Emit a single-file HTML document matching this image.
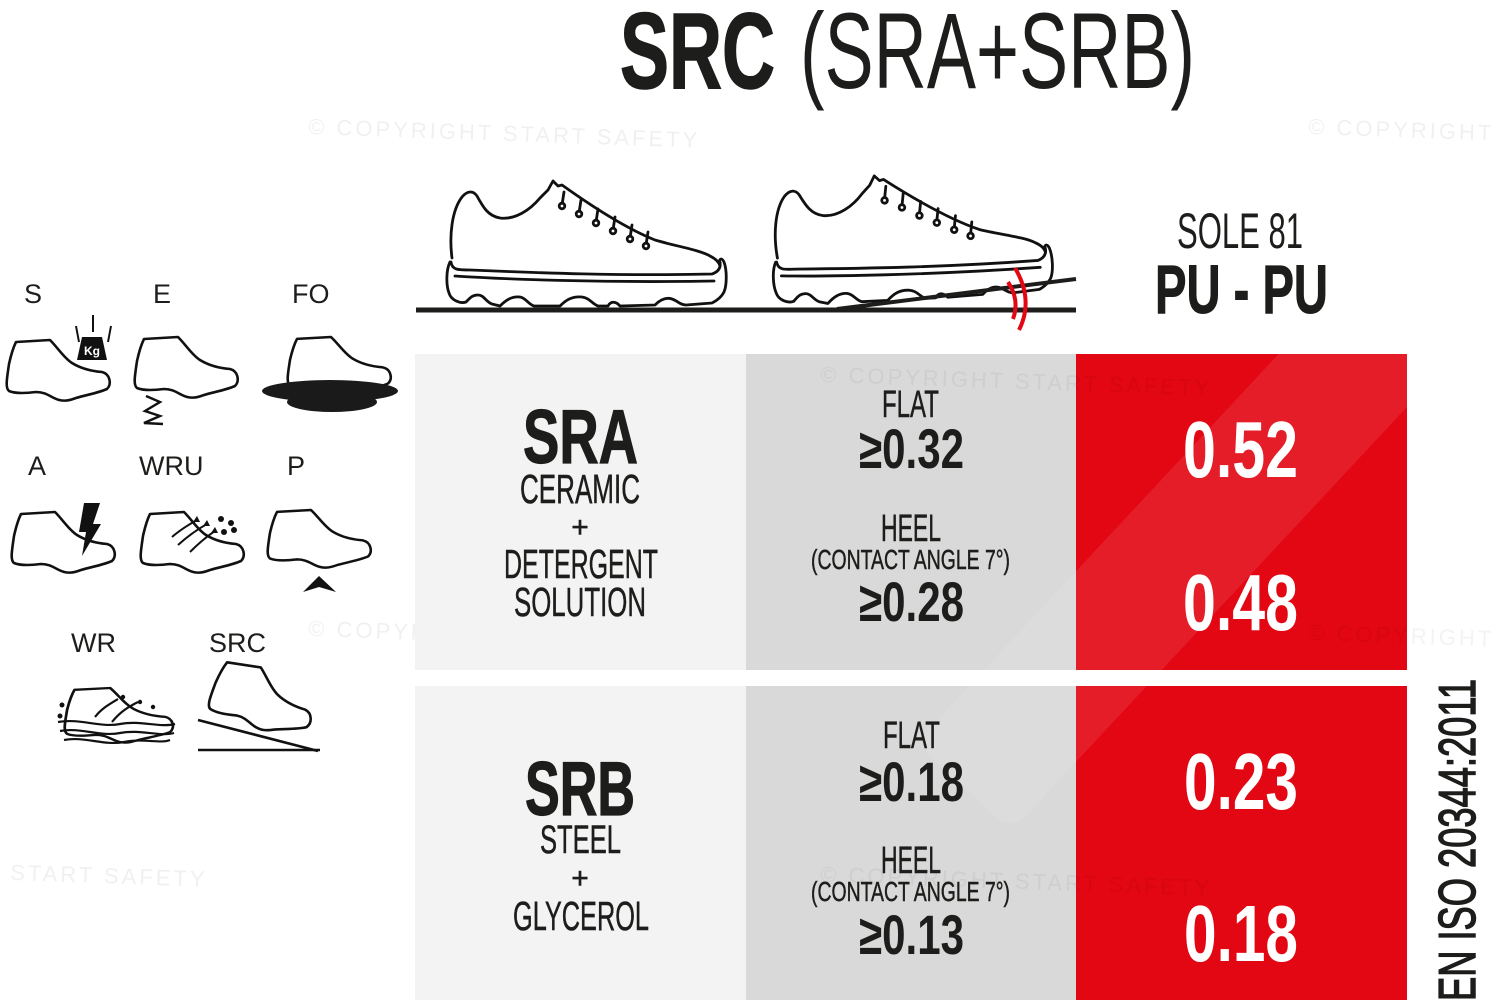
<!DOCTYPE html>
<html><head><meta charset="utf-8"><style>
html,body{margin:0;padding:0;background:#fff;}
svg{display:block;}
text{font-family:"Liberation Sans",sans-serif;}
</style></head><body>
<svg width="1500" height="1000" viewBox="0 0 1500 1000" xmlns="http://www.w3.org/2000/svg">
<defs>
<path id="boot" d="M10,2 L44,0 C52,8 58,18 66,23 C74,28 84,31 96,32 C104,34 106,44 101,49 C92,53 80,55 70,58 C62,61 56,62 48,58 C42,55 38,52 30,52 C22,53 10,54 3,51 C-1,48 1,38 3,24 C5,15 7,8 10,2 Z" fill="#fff" stroke="#111" stroke-width="2.6" stroke-linejoin="round"/>
<g id="sneaker" fill="none" stroke="#111" stroke-width="2.8" stroke-linejoin="round" stroke-linecap="round">
<path d="M452,258 C449,235 452,210 462,197 C467,191 473,190 477,196 C483,207 488,216 500,218 C515,220 530,210 540,198 L548,190 L553,181 L558,186 L562,185 C590,205 625,228 655,240 C675,246 700,250 710,256 C716,259 719,262 720,266"/>
<path d="M451,262 C452,270 458,270 470,270 C540,273 620,276 712,274 C718,272 721,268 720,262"/>
<path d="M455,276 C500,279 600,283 714,281"/>
<path d="M450,262 C446,270 446,285 449,293 C451,300 460,304 466,302 C470,298 472,295 478,295 C484,295 486,302 492,304 L500,306 C506,300 512,296 520,297 C526,298 528,304 534,306 L560,306 C566,300 572,296 582,297 C590,298 592,304 598,306 L608,306 C610,302 614,301 618,304 L620,306 L655,305 C660,300 666,297 672,299 C678,301 680,305 686,305 L712,303 C718,300 722,296 724,292 C727,285 727,270 724,262 C722,258 720,258 719,262"/>
<path d="M564,192 L562,205 M581,200 L579,213 M598,209 L596,222 M615,217 L613,230 M632,225 L630,238 M648,232 L646,245"/>
<circle cx="562" cy="206" r="2.8" fill="#fff"/><circle cx="579" cy="214" r="2.8" fill="#fff"/><circle cx="596" cy="223" r="2.8" fill="#fff"/><circle cx="613" cy="231" r="2.8" fill="#fff"/><circle cx="630" cy="239" r="2.8" fill="#fff"/><circle cx="646" cy="246" r="2.8" fill="#fff"/>
</g>
</defs>

<!-- faint watermarks on white -->
<g fill="#000" opacity="0.06" font-size="22" letter-spacing="3">
<text x="308" y="134" transform="rotate(2 308 134)">© COPYRIGHT START SAFETY</text>
<text x="1308" y="134" transform="rotate(2 1308 134)">© COPYRIGHT</text>
<text x="308" y="636" transform="rotate(2 308 636)">© COPYRIGHT START SAFETY</text>
<text x="10" y="880" transform="rotate(2 10 880)">START SAFETY</text>
</g>

<!-- Title -->
<text x="620" y="88" font-size="108" font-weight="bold" fill="#1d1d1b" stroke="#1d1d1b" stroke-width="1.5" textLength="155" lengthAdjust="spacingAndGlyphs">SRC</text>
<text x="800" y="88" font-size="108" fill="#1d1d1b" textLength="395" lengthAdjust="spacingAndGlyphs">(SRA+SRB)</text>

<!-- Sole -->
<text x="1177" y="248" font-size="50" fill="#1d1d1b" textLength="126" lengthAdjust="spacingAndGlyphs">SOLE 81</text>
<text x="1155" y="313" font-size="69" font-weight="bold" fill="#1d1d1b" stroke="#1d1d1b" stroke-width="1" textLength="173" lengthAdjust="spacingAndGlyphs">PU - PU</text>

<!-- Big shoes -->
<use href="#sneaker"/>
<g transform="translate(328,0) rotate(-3 452 307)"><use href="#sneaker"/></g>
<line x1="416" y1="310" x2="1076" y2="310" stroke="#1d1d1b" stroke-width="5"/>
<line x1="837" y1="309" x2="1076" y2="279" stroke="#1d1d1b" stroke-width="4"/>
<path d="M1008,282 Q1020,300 1013,319" fill="none" stroke="#e30613" stroke-width="4"/>
<path d="M1015,268 Q1034,300 1019,330" fill="none" stroke="#e30613" stroke-width="4"/>

<!-- Table -->
<rect x="415" y="354" width="331" height="316" fill="#f3f3f3"/>
<rect x="746" y="354" width="330" height="316" fill="#d9d9d9"/>
<rect x="1076" y="354" width="331" height="316" fill="#e30613"/>
<rect x="415" y="686" width="331" height="314" fill="#f3f3f3"/>
<rect x="746" y="686" width="330" height="314" fill="#d9d9d9"/>
<rect x="1076" y="686" width="331" height="314" fill="#e30613"/>

<!-- watermark band on red -->
<g opacity="0.09" fill="#fff">
<rect x="-420" y="-65" width="840" height="130" rx="20" transform="translate(1250,480) rotate(-47)"/>
</g>
<g fill="#000" opacity="0.05" font-size="22" letter-spacing="3">
<text x="820" y="382" transform="rotate(2 820 382)">© COPYRIGHT START SAFETY</text>
<text x="820" y="882" transform="rotate(2 820 882)">© COPYRIGHT START SAFETY</text>
<text x="1308" y="640" transform="rotate(2 1308 640)">© COPYRIGHT</text>
</g>

<!-- Section 1 -->
<g fill="#1d1d1b">
<text x="523" y="463" font-size="76" font-weight="bold" stroke="#1d1d1b" stroke-width="1.2" textLength="115" lengthAdjust="spacingAndGlyphs">SRA</text>
<g stroke="#1d1d1b" stroke-width="0.5">
<text x="520" y="503" font-size="41" textLength="120" lengthAdjust="spacingAndGlyphs">CERAMIC</text>
<text x="580" y="537" font-size="30" text-anchor="middle">+</text>
<text x="504" y="578" font-size="41" textLength="154" lengthAdjust="spacingAndGlyphs">DETERGENT</text>
<text x="514" y="616" font-size="41" textLength="132" lengthAdjust="spacingAndGlyphs">SOLUTION</text>
<text x="882" y="417" font-size="38" textLength="57" lengthAdjust="spacingAndGlyphs">FLAT</text>
<text x="881" y="541" font-size="38" textLength="60" lengthAdjust="spacingAndGlyphs">HEEL</text>
<text x="811" y="569" font-size="28" textLength="199" lengthAdjust="spacingAndGlyphs">(CONTACT ANGLE 7°)</text>
</g>
<text x="859" y="468" font-size="56" font-weight="bold" textLength="105" lengthAdjust="spacingAndGlyphs">≥0.32</text>
<text x="859" y="621" font-size="56" font-weight="bold" textLength="105" lengthAdjust="spacingAndGlyphs">≥0.28</text>
</g>
<g fill="#fff">
<text x="1183" y="477" font-size="80" font-weight="bold" textLength="115" lengthAdjust="spacingAndGlyphs">0.52</text>
<text x="1183" y="630" font-size="80" font-weight="bold" textLength="115" lengthAdjust="spacingAndGlyphs">0.48</text>
</g>

<!-- Section 2 -->
<g fill="#1d1d1b">
<text x="525" y="815" font-size="76" font-weight="bold" stroke="#1d1d1b" stroke-width="1.2" textLength="110" lengthAdjust="spacingAndGlyphs">SRB</text>
<g stroke="#1d1d1b" stroke-width="0.5">
<text x="540" y="853" font-size="40" textLength="81" lengthAdjust="spacingAndGlyphs">STEEL</text>
<text x="580" y="888" font-size="30" text-anchor="middle">+</text>
<text x="513" y="930" font-size="41" textLength="136" lengthAdjust="spacingAndGlyphs">GLYCEROL</text>
<text x="883" y="748" font-size="38" textLength="57" lengthAdjust="spacingAndGlyphs">FLAT</text>
<text x="881" y="873" font-size="38" textLength="60" lengthAdjust="spacingAndGlyphs">HEEL</text>
<text x="811" y="901" font-size="28" textLength="199" lengthAdjust="spacingAndGlyphs">(CONTACT ANGLE 7°)</text>
</g>
<text x="859" y="801" font-size="56" font-weight="bold" textLength="105" lengthAdjust="spacingAndGlyphs">≥0.18</text>
<text x="859" y="954" font-size="56" font-weight="bold" textLength="105" lengthAdjust="spacingAndGlyphs">≥0.13</text>
</g>
<g fill="#fff">
<text x="1184" y="809" font-size="80" font-weight="bold" textLength="114" lengthAdjust="spacingAndGlyphs">0.23</text>
<text x="1184" y="961" font-size="80" font-weight="bold" textLength="114" lengthAdjust="spacingAndGlyphs">0.18</text>
</g>

<!-- EN ISO vertical -->
<text transform="translate(1475,1001) rotate(-90)" x="0" y="0" font-size="52" fill="#1d1d1b" stroke="#1d1d1b" stroke-width="1.4" textLength="322" lengthAdjust="spacingAndGlyphs">EN ISO 20344:2011</text>

<!-- Left icons -->
<g fill="#1d1d1b" font-size="27">
<text x="24" y="303">S</text>
<text x="153" y="303">E</text>
<text x="292" y="303">FO</text>
<text x="28" y="475">A</text>
<text x="139" y="475">WRU</text>
<text x="287" y="475">P</text>
<text x="71" y="652">WR</text>
<text x="209" y="652">SRC</text>
</g>

<!-- S -->
<use href="#boot" transform="translate(6,340)"/>
<g stroke="#111" stroke-width="2">
<line x1="93" y1="315" x2="93" y2="332"/><line x1="76" y1="326" x2="79" y2="342"/><line x1="111" y1="326" x2="108" y2="342"/>
</g>
<polygon points="82,337 102,337 107,360 77,360" fill="#111"/>
<text x="92" y="355" font-size="12" font-weight="bold" fill="#fff" text-anchor="middle">Kg</text>

<!-- E -->
<use href="#boot" transform="translate(134,337)"/>
<polyline points="146,396 160,402 145,411 160,416 144,423 163,424" fill="none" stroke="#111" stroke-width="2.4"/>

<!-- FO -->
<use href="#boot" transform="translate(287,337) scale(1,0.95)"/>
<ellipse cx="330" cy="391" rx="68" ry="11" fill="#1a1a1a"/>
<ellipse cx="332" cy="402" rx="45" ry="10" fill="#1a1a1a"/>

<!-- A -->
<use href="#boot" transform="translate(11,512)"/>
<polygon points="84,503 100,503 93,524 101,524 82,556 86,532 79,532" fill="#111"/>

<!-- WRU -->
<use href="#boot" transform="translate(140,512)"/>
<g fill="none" stroke="#111" stroke-width="2">
<path d="M172,537 C180,530 188,525 197,520"/><path d="M178,545 C188,536 196,530 207,524"/><path d="M190,552 C198,544 206,537 215,531"/>
</g>
<g fill="#111">
<polygon points="197,516 200,522 193,522"/><polygon points="207,520 210,526 203,526"/><polygon points="215,527 218,533 211,533"/>
<circle cx="221" cy="519" r="3"/><circle cx="231" cy="523" r="3"/><circle cx="224" cy="532" r="3"/><circle cx="234" cy="530" r="3"/>
</g>

<!-- P -->
<use href="#boot" transform="translate(267,510) scale(1,0.95)"/>
<polygon points="303,592 319,576 336,592 319,587" fill="#111"/>

<!-- WR -->
<g transform="translate(64,688) scale(1.05,0.9)"><use href="#boot"/></g>
<g fill="none" stroke="#111" stroke-width="2.2">
<path d="M58,722 C80,718 100,728 120,724 C140,720 160,728 175,724"/>
<path d="M60,731 C80,727 100,737 120,733 C140,729 160,737 174,733"/>
<path d="M64,740 C84,736 104,746 124,742 C144,738 160,744 170,740"/>
<path d="M95,717 C102,708 110,704 118,699"/><path d="M112,722 C120,712 128,707 138,702"/>
</g>
<g fill="#111"><circle cx="62" cy="705" r="2.5"/><circle cx="60" cy="716" r="2.5"/><circle cx="123" cy="697" r="2.2"/><circle cx="140" cy="702" r="2.2"/><circle cx="153" cy="707" r="2.2"/></g>

<!-- SRC -->
<g transform="rotate(12 260 700)"><use href="#boot" transform="translate(210,668)"/></g>
<line x1="198" y1="720" x2="318" y2="751" stroke="#111" stroke-width="2.6"/>
<line x1="198" y1="750" x2="320" y2="750" stroke="#111" stroke-width="2.6"/>
</svg>
</body></html>
